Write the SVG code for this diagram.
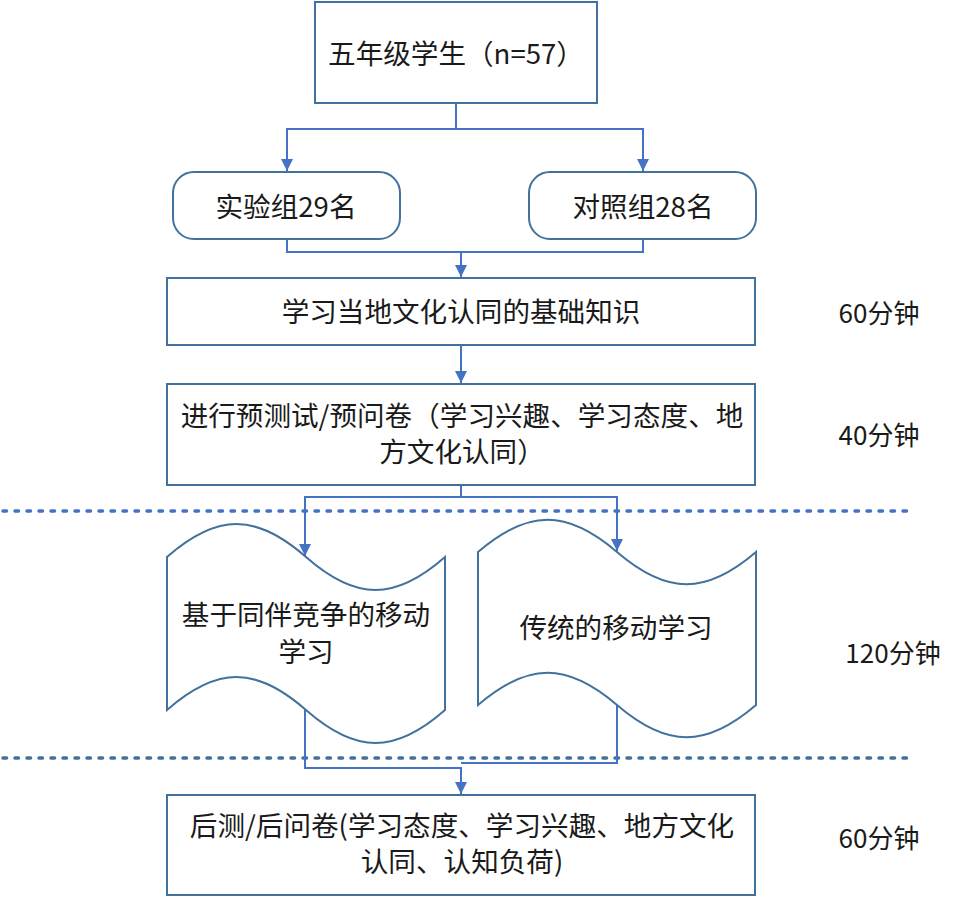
<svg xmlns="http://www.w3.org/2000/svg" width="957" height="898" viewBox="0 0 957 898">
<style>
.box{fill:#fff;stroke:#41719C;stroke-width:2}
.con{fill:none;stroke:#4472C4;stroke-width:2}
.dash{fill:none;stroke:#4472C4;stroke-width:3.5;stroke-dasharray:3.5 8.5;stroke-linecap:round}
.t{font-family:"Noto Sans CJK SC","Microsoft YaHei",sans-serif;font-size:27.6px;fill:#1a1a1a;text-anchor:middle}
.l{font-family:"Noto Sans CJK SC","Microsoft YaHei",sans-serif;font-size:26px;fill:#1a1a1a;text-anchor:middle}
</style>
<defs>
<marker id="ah" markerWidth="12" markerHeight="12" refX="12" refY="6" orient="auto" markerUnits="userSpaceOnUse">
<path d="M0,0 L12,6 L0,12 Z" fill="#4472C4"/>
</marker>
</defs>
<rect width="957" height="898" fill="#fff"/>
<g id="separators">
<line class="dash" x1="3" y1="511" x2="908" y2="511"/>
<line class="dash" x1="3" y1="758" x2="908" y2="758" style="stroke:#41719C"/>
</g>
<g id="connectors">
<path class="con" d="M456,103 V129 H287 V171" marker-end="url(#ah)"/>
<path class="con" d="M456,129 H643 V171" marker-end="url(#ah)"/>
<path class="con" d="M287,239 V252 H461 V277" marker-end="url(#ah)"/>
<path class="con" d="M643,239 V252 H461"/>
<path class="con" d="M461,345 V383" marker-end="url(#ah)"/>
<path class="con" d="M461,485 V497 H305 V556" marker-end="url(#ah)"/>
<path class="con" d="M461,497 H617 V551" marker-end="url(#ah)"/>
<path class="con" d="M305,710 V768 H461 V794" marker-end="url(#ah)"/>
<path class="con" d="M617,705 V763 H461"/>
</g>
<g id="n1">
<rect class="box" x="315" y="2" width="282" height="101"/>
<text class="t" x="456" y="64">五年级学生（n=57）</text>
</g>
<g id="n2">
<rect class="box" x="173" y="172" width="227" height="67" rx="21"/>
<text class="t" x="286" y="217">实验组29名</text>
</g>
<g id="n3">
<rect class="box" x="529" y="172" width="227" height="67" rx="21"/>
<text class="t" x="643" y="217">对照组28名</text>
</g>
<g id="n4">
<rect class="box" x="167" y="278" width="588" height="67"/>
<text class="t" x="461" y="322">学习当地文化认同的基础知识</text>
</g>
<g id="n5">
<rect class="box" x="167" y="384" width="588" height="101"/>
<text class="t" x="462" y="426">进行预测试/预问卷（学习兴趣、学习态度、地</text>
<text class="t" x="462" y="462">方文化认同）</text>
</g>
<g id="n6">
<path class="box" d="M167,557 C217,513 256,513 306,557 S395,601 445,557 L445,710 C395,754 356,754 306,710 S217,666 167,710 Z"/>
<text class="t" x="306" y="625">基于同伴竞争的移动</text>
<text class="t" x="306" y="662">学习</text>
</g>
<g id="n7">
<path class="box" d="M478,552 C528,509 567,509 617,552 S706,595 756,552 L756,705 C706,748 667,748 617,705 S528,662 478,705 Z"/>
<text class="t" x="616" y="638">传统的移动学习</text>
</g>
<g id="n8">
<rect class="box" x="167" y="795" width="588" height="100"/>
<text class="t" x="462" y="836">后测/后问卷(学习态度、学习兴趣、地方文化</text>
<text class="t" x="462" y="872">认同、认知负荷)</text>
</g>
<g id="times">
<text class="l" x="879" y="323">60分钟</text>
<text class="l" x="879" y="445">40分钟</text>
<text class="l" x="893" y="663">120分钟</text>
<text class="l" x="879" y="848">60分钟</text>
</g>
</svg>
